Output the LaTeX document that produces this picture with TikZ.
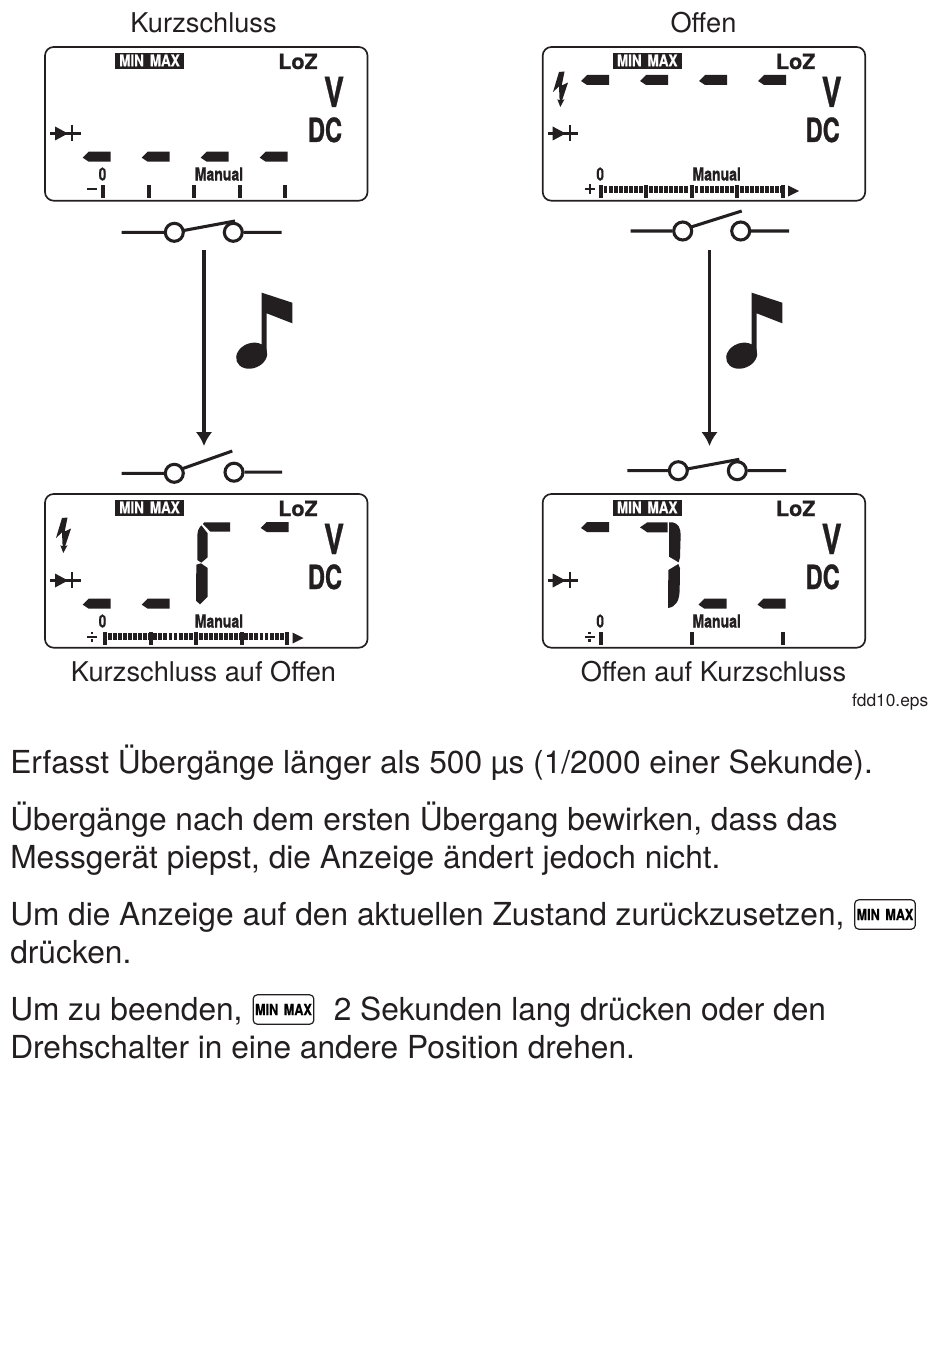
\documentclass[tikz,border=0pt]{standalone}
\usepackage{graphicx}
\usepackage{fontspec}
\setmainfont{TeX Gyre Heros}
\newfontface\lcdface{TeX Gyre Heros Bold}[FakeBold=0.9]
\definecolor{ink}{HTML}{231F20}
\newcommand{\lcdfont}[3]{{\fontsize{#1}{#1}\lcdface\scalebox{#2}[1]{#3}}}
\usetikzlibrary{arrows.meta}
\tikzset{
  x=0.75pt,y=-0.75pt,
  lcdtxt/.style={inner sep=0pt,anchor=base,text=ink},
  bodytxt/.style={inner sep=0pt,anchor=base west,text=ink,font=\fontsize{23.76pt}{24pt}\selectfont},
  captxt/.style={inner sep=0pt,anchor=base,text=ink,font=\fontsize{20.4pt}{21pt}\selectfont},
  frame/.style={draw=ink,line width=1.25pt,rounded corners=6.5pt,fill=white},
  seg/.style={fill=ink,draw=none},
  wire/.style={draw=ink,line width=2.3pt},
  contact/.style={circle,draw=ink,line width=2.3pt,fill=white,minimum size=13.5pt,inner sep=0pt},
  flowarrow/.style={draw=ink,line width=2.4pt,-{Latex[length=10.5pt,width=12.5pt]}},
  keybox/.style={draw=ink,line width=0.9pt,rounded corners=3pt,fill=white,minimum width=45.5pt,minimum height=22pt,inner sep=0pt},
}
% one display segment, left point at (#1,#2)
\newcommand{\dash}[2]{\fill[seg] (#1,#2+6) -- (#1+6,#2) -- (#1+28,#2) -- (#1+28,#2+10) -- (#1+6,#2+10) -- cycle;}
\newcommand{\bolt}[2]{\begin{scope}[shift={(#1,#2)}]
  \fill[seg] (6,0) -- (0,20) -- (6,14.5) -- (6.6,28.3) -- (4.3,27.2) -- (7.3,35) -- (11.5,27.2) -- (9,28.5) -- (15,10.5) -- (8.7,13.5) -- (11.5,-0.5) -- cycle;
\end{scope}}
\newcommand{\panel}[3]{% prefix, dx, dy : frame and fixed legends
\begin{scope}[shift={(#2,#3)}]
  \draw[frame] (45,47) rectangle (367.5,200.7);
  \fill[ink] (115,52.7) rectangle (184,68.7);
  \node[lcdtxt,text=white] (#1minmax) at (149.5,66.2) {\lcdfont{12pt}{.84}{MIN\hspace{2pt} MAX}};
  \node[lcdtxt] (#1loz) at (298,69) {\lcdfont{15.8pt}{1.02}{LoZ}};
  \node[lcdtxt] (#1v) at (334,107) {\lcdfont{31pt}{.72}{V}};
  \node[lcdtxt] (#1dc) at (325,142) {\lcdfont{25pt}{.71}{DC}};
  \node[lcdtxt] (#1zero) at (102.5,180.5) {\lcdfont{13.5pt}{.75}{0}};
  \node[lcdtxt] (#1manual) at (219,180.5) {\lcdfont{13.5pt}{.78}{Manual}};
  \fill[seg] (55,126.5) -- (68,133.5) -- (55,140.5) -- cycle;
  \draw[ink,line width=1.6pt] (50,133.5) -- (80.5,133.5) (72,124.7) -- (72,141);
\end{scope}}
\newcommand{\ticks}[3]{\begin{scope}[shift={(#1,#2)}]
  \foreach \t in {#3} {\fill[seg] (\t-2,185) rectangle (\t+2,198);}
\end{scope}}
\newcommand{\comb}[2]{\begin{scope}[shift={(#1,#2)}]
  \foreach \t in {103,148.5,194,239.5,285} {\fill[seg] (\t-2,185) rectangle (\t+2,198);}
  \foreach \i in {1,...,36} {\fill[seg] ({103+\i*5.055-2.2},185.7) rectangle ({103+\i*5.055+1.7},193);}
  \fill[seg] (290.5,185.5) -- (301.5,191) -- (290.5,196.5) -- cycle;
\end{scope}}
\newcommand{\divsign}[2]{\begin{scope}[shift={(#1,#2)}]
  \fill[seg] (87,188.7) rectangle (97,190.7);
  \fill[seg] (90.7,184.5) rectangle (93.2,187);
  \fill[seg] (90.7,192.2) rectangle (93.2,194.7);
\end{scope}}
\begin{document}
\begin{tikzpicture}
\useasboundingbox (0,0) rectangle (950,1366);
\fill[white] (0,0) rectangle (950,1366);

\node[captxt] (capA) at (203.5,32.7) {Kurzschluss};
\node[captxt] (capB) at (703.5,32.7) {Offen};
\node[captxt] (capC) at (203.5,681) {Kurzschluss auf Offen};
\node[captxt] (capD) at (713.5,681) {Offen auf Kurzschluss};
\node[inner sep=0pt,anchor=base east,text=ink,font=\fontsize{13pt}{14pt}\selectfont] (fig) at (928.5,706) {fdd10.eps};

% --- panel A
\panel{a}{0}{0}
\foreach \x in {82.7,141.7,200.7,259.7} {\dash{\x}{151.7}}
\fill[seg] (87,188) rectangle (97,190);
\ticks{0}{0}{103,148.5,194,239.5,285}

% --- panel B
\panel{b}{497.7}{0}
\foreach \x in {83.3,142.3,201.3,260.3} {\dash{497.7+\x}{75}}
\bolt{553}{72}
\fill[seg] (585,188) rectangle (594.5,190);
\fill[seg] (588.8,184) rectangle (590.8,194);
\comb{497.7}{0}

% --- panel C
\panel{c}{0}{447}
\bolt{56}{518}
\foreach \x in {82.7,141.7} {\dash{\x}{598.7}}
\dash{260.7}{522}
\divsign{0}{447}
\comb{2}{447}
\begin{scope}[shift={(30,440)},scale=1/3]
  \fill[seg] (522,247) -- (600,247) -- (600,275) -- (541,275) -- (519,252) -- cycle;
  \fill[seg] (514,256) .. controls (505,265) and (502,275) .. (502,290) -- (502,360) -- (514,368) -- (533,352) -- (533,280) -- cycle;
  \fill[seg] (499,374) -- (513,370) -- (533,384) -- (533,470) -- (510,493) -- (498,482) -- cycle;
\end{scope}

% --- panel D
\panel{d}{497.7}{447}
\dash{581}{522}
\dash{698.5}{598.7}
\dash{757.5}{598.7}
\divsign{497.7}{447}
\ticks{497.7}{447}{103,194,285}
\begin{scope}[shift={(530,440)},scale=1/3]
  \fill[seg] (330,262) -- (352,247) -- (413,247) -- (413,277) -- (352,277) -- cycle;
  \fill[seg] (417,247) -- (428,247) .. controls (445,250) and (452,265) .. (452,285) -- (450,352) -- (446,367) -- (417,350) -- cycle;
  \fill[seg] (445,372) -- (450,385) -- (449,450) .. controls (448,480) and (440,500) .. (414,504) -- (415,390) -- cycle;
\end{scope}

% --- switches
\node[contact] (s1a) at (174.3,232.3) {};
\node[contact] (s1b) at (233.3,232.3) {};
\coordinate (s1l) at (121.7,232.3); \coordinate (s1r) at (281.7,232.3); \coordinate (s1t) at (235,221);
\draw[wire] (s1l) -- (s1a) (s1b) -- (s1r) (182,230.8) -- (s1t);

\node[contact] (s2a) at (682.7,231) {};
\node[contact] (s2b) at (740.7,231) {};
\coordinate (s2l) at (630.7,231); \coordinate (s2r) at (789,231); \coordinate (s2t) at (741.7,211);
\draw[wire] (s2l) -- (s2a) (s2b) -- (s2r) (690.5,227.2) -- (s2t);

\node[contact] (s3a) at (174.3,473.3) {};
\node[contact] (s3b) at (234,472.2) {};
\coordinate (s3l) at (121.7,473.3); \coordinate (s3r) at (282,472.2); \coordinate (s3t) at (232.3,451);
\draw[wire] (s3l) -- (s3a) (s3b) -- (s3r) (181.5,469) -- (s3t);

\node[contact] (s4a) at (678.3,470.7) {};
\node[contact] (s4b) at (737.3,470.7) {};
\coordinate (s4l) at (627.3,470.7); \coordinate (s4r) at (786,470.7); \coordinate (s4t) at (739.3,459.3);
\draw[wire] (s4l) -- (s4a) (s4b) -- (s4r) (686,469.2) -- (s4t);

% --- flow arrows
\coordinate (f1a) at (204,250); \coordinate (f1b) at (204,446);
\coordinate (f2a) at (709.5,250); \coordinate (f2b) at (709.5,446);
\draw[flowarrow] (f1a) -- (f1b);
\draw[flowarrow] (f2a) -- (f2b);

% --- notes
\foreach \d in {0,490} {
\begin{scope}[shift={(\d,0)}]
  \fill[seg] (261.7,292.7) -- (292.3,302.7) -- (292.3,323.3) -- (266.7,313.3) -- (266.7,354) -- (261.7,354) -- cycle;
  \fill[seg,rotate around={22:(251.7,355.7)}] (251.7,355.7) ellipse [x radius=16,y radius=12.5];
\end{scope}}

% --- text
\node[bodytxt] (t1) at (10,773) {Erfasst Übergänge länger als 500 µs (1/2000 einer Sekunde).};
\node[bodytxt] (t2) at (10,830) {Übergänge nach dem ersten Übergang bewirken, dass das};
\node[bodytxt] (t3) at (10,868) {Messgerät piepst, die Anzeige ändert jedoch nicht.};
\node[bodytxt] (t4) at (10,925) {Um die Anzeige auf den aktuellen Zustand zurückzusetzen,};
\node[bodytxt] (t5) at (10,963) {drücken.};
\node[bodytxt] (t6) at (10,1020) {Um zu beenden,};
\node[bodytxt] (t6b) at (333.5,1020) {2 Sekunden lang drücken oder den};
\node[bodytxt] (t7) at (10,1058) {Drehschalter in eine andere Position drehen.};
\node[keybox] (k1) at (885,914.5) {\lcdfont{11.5pt}{.82}{MIN\hspace{2pt} MAX}};
\node[keybox] (k2) at (283.5,1009.5) {\lcdfont{11.5pt}{.82}{MIN\hspace{2pt} MAX}};
\end{tikzpicture}
\end{document}
